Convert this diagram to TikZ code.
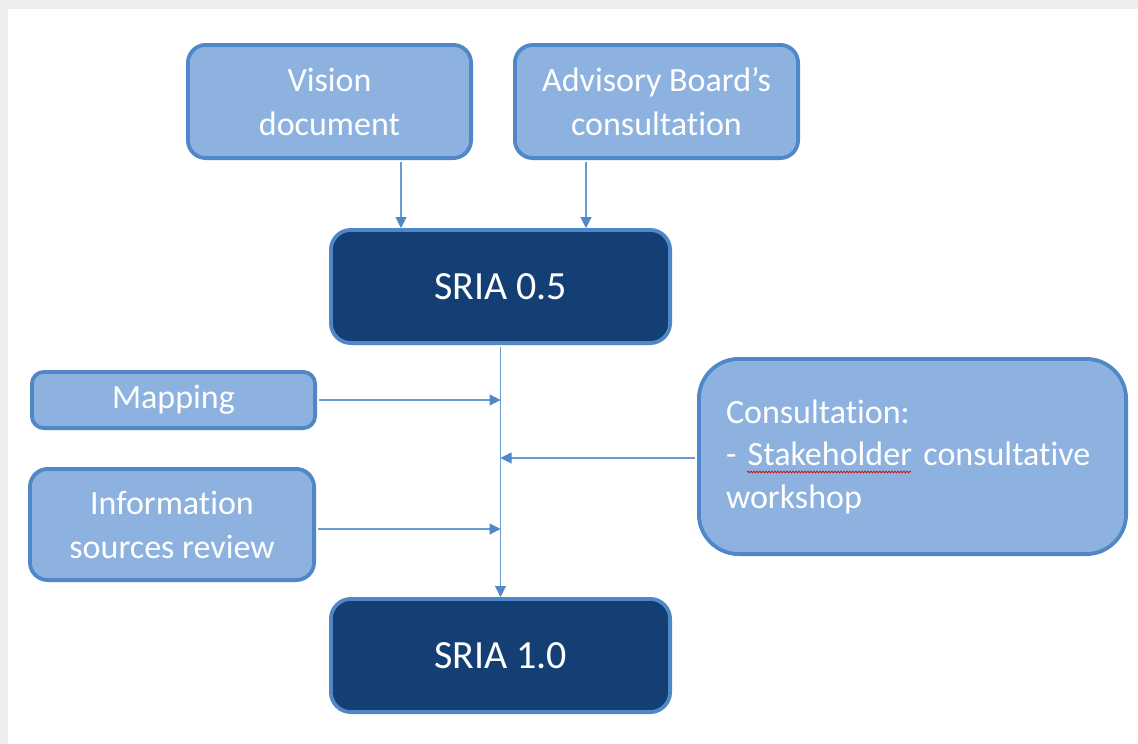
\documentclass[tikz,border=0pt]{standalone}
\usepackage{fontspec}
\setmainfont{Carlito}[Ligatures=NoCommon]
\usetikzlibrary{arrows.meta,decorations.pathmorphing}
\definecolor{lightfill}{HTML}{8DB2DF}
\definecolor{boxborder}{HTML}{4F87C7}
\definecolor{darkfill}{HTML}{143F74}
\definecolor{connector}{HTML}{6A9AD2}
\definecolor{frame}{HTML}{EEEEEE}
\begin{document}
\begin{tikzpicture}[x=1pt,y=-1pt,
  lightbox/.style={draw=boxborder, fill=lightfill, line width=3.8pt, rounded corners=18pt,
    text=white, align=center, font=\fontsize{34}{44}\selectfont, inner sep=0pt},
  darkbox/.style={draw=boxborder, fill=darkfill, line width=3.8pt, rounded corners=20pt,
    text=white, align=center, font=\fontsize{40}{46}\selectfont, inner sep=0pt,
    minimum width=339.2pt, minimum height=113.2pt},
  arr/.style={draw=connector, line width=1.1pt, shorten <=2pt,
    -{Triangle[length=11pt,width=11pt,color=boxborder]}}
]
\useasboundingbox (0,0) rectangle (1138,744);
\fill[frame] (0,0) rectangle (1138,744);
\fill[white] (8,9) rectangle (1138,744);

\node[lightbox, minimum width=283.2pt, minimum height=113.2pt] (vision) at (329.5,101.5) {Vision\\document};
\node[lightbox, minimum width=283.2pt, minimum height=113.2pt] (advisory) at (656.5,101.5) {Advisory Board’s\\consultation};
\node[darkbox] (sria05) at (500.5,286.5) {SRIA 0.5};
\node[lightbox, rounded corners=12pt, minimum width=283.2pt, minimum height=56.2pt] (mapping) at (173.5,400) {Mapping};
\node[lightbox, minimum width=284.2pt, minimum height=111.2pt] (info) at (172,524.5) {Information\\sources review};
\node[lightbox, rounded corners=40pt, minimum width=427.2pt, minimum height=195.2pt,
  align=left, text width=373pt, inner xsep=27pt, font=\fontsize{34}{42.5}\selectfont] (consult) at (912.5,456.5)
  {Consultation:\\- Stakeholder consultative\\workshop};
\node[darkbox] (sria10) at (500.5,655.5) {SRIA 1.0};

\draw[red!85!black, line width=0.7pt, decorate, decoration={snake, amplitude=0.9pt, segment length=3pt}]
  (747,472) -- (911,472);

\draw[arr] ([xshift=71.5pt]vision.south) -- ([xshift=71.5pt]vision.south |- sria05.north);
\draw[arr] ([xshift=-70.5pt]advisory.south) -- ([xshift=-70.5pt]advisory.south |- sria05.north);
\draw[arr] (sria05.south) -- (sria10.north);
\draw[arr] (mapping.east) -- (mapping.east -| sria05.south);
\draw[arr] ([yshift=-1.5pt]consult.west) -- ([yshift=-1.5pt]consult.west -| sria05.south);
\draw[arr] ([yshift=-4.5pt]info.east) -- ([yshift=-4.5pt]info.east -| sria05.south);
\end{tikzpicture}
\end{document}
